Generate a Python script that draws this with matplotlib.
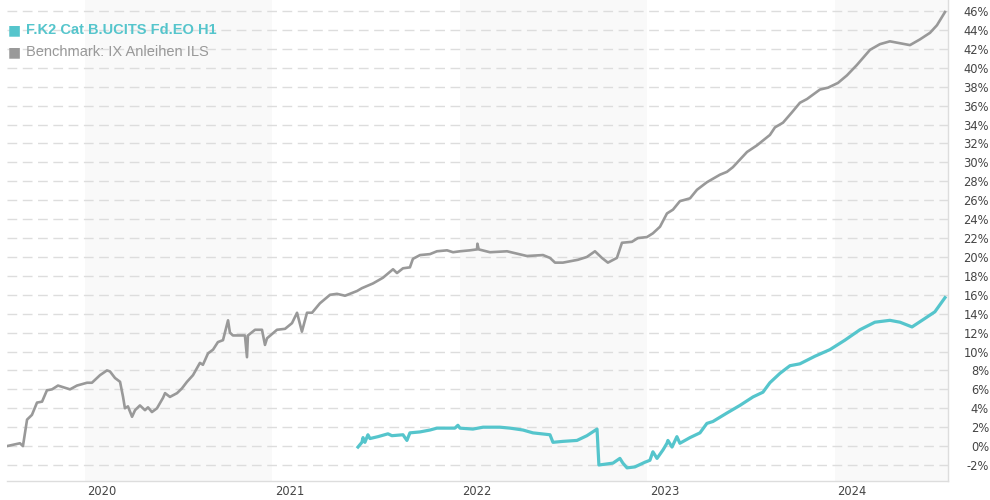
import matplotlib.pyplot as plt

# decimal years / cumulative performance in %
bench_t = [2019.584, 2019.653, 2019.669, 2019.691, 2019.717, 2019.744, 2019.771, 2019.797,
           2019.824, 2019.856, 2019.920, 2019.957, 2020.011, 2020.037, 2020.080, 2020.117,
           2020.133, 2020.160, 2020.187, 2020.203, 2020.213, 2020.229, 2020.251, 2020.267,
           2020.293, 2020.320, 2020.336, 2020.357, 2020.384, 2020.416, 2020.427, 2020.453,
           2020.491, 2020.517, 2020.544, 2020.576, 2020.613, 2020.629, 2020.656, 2020.683,
           2020.709, 2020.736, 2020.763, 2020.773, 2020.789, 2020.816, 2020.853, 2020.864,
           2020.869, 2020.907, 2020.944, 2020.960, 2020.971, 2021.024, 2021.067, 2021.104,
           2021.131, 2021.157, 2021.184, 2021.211, 2021.253, 2021.307, 2021.344, 2021.387,
           2021.451, 2021.477, 2021.536, 2021.589, 2021.643, 2021.664, 2021.696, 2021.733,
           2021.749, 2021.787, 2021.840, 2021.877, 2021.931, 2021.963, 2022.000, 2022.053,
           2022.091, 2022.093, 2022.100, 2022.160, 2022.251, 2022.357, 2022.443, 2022.480,
           2022.507, 2022.549, 2022.629, 2022.677, 2022.720, 2022.757, 2022.789, 2022.837,
           2022.864, 2022.917, 2022.949, 2022.997, 2023.029, 2023.067, 2023.104, 2023.136,
           2023.173, 2023.227, 2023.264, 2023.317, 2023.387, 2023.424, 2023.456, 2023.531,
           2023.584, 2023.653, 2023.680, 2023.723, 2023.771, 2023.813, 2023.851, 2023.920,
           2023.963, 2024.016, 2024.064, 2024.117, 2024.187, 2024.240, 2024.293, 2024.347,
           2024.400, 2024.453, 2024.507, 2024.544, 2024.587]
bench_v = [0.0, 0.3, 0.0, 2.8, 3.3, 4.6, 4.7, 5.9,
           6.0, 6.4, 6.0, 6.4, 6.7, 6.7, 7.5, 8.0,
           7.9, 7.2, 6.8, 5.2, 4.0, 4.2, 3.1, 3.8,
           4.3, 3.8, 4.1, 3.6, 4.0, 5.1, 5.6, 5.2,
           5.6, 6.1, 6.8, 7.5, 8.8, 8.6, 9.8, 10.2,
           11.0, 11.2, 13.3, 12.0, 11.7, 11.7, 11.7, 9.4,
           11.7, 12.3, 12.3, 10.7, 11.4, 12.3, 12.4, 13.0,
           14.1, 12.1, 14.1, 14.1, 15.1, 16.0, 16.1, 15.9,
           16.4, 16.7, 17.2, 17.8, 18.7, 18.3, 18.8, 18.9,
           19.8, 20.2, 20.3, 20.6, 20.7, 20.5, 20.6, 20.7,
           20.8, 21.4, 20.8, 20.5, 20.6, 20.1, 20.2, 19.9,
           19.4, 19.4, 19.7, 20.0, 20.6, 19.9, 19.4, 19.9,
           21.5, 21.6, 22.0, 22.1, 22.5, 23.2, 24.6, 25.0,
           25.9, 26.2, 27.1, 27.9, 28.7, 29.0, 29.5, 31.1,
           31.8, 32.9, 33.7, 34.2, 35.3, 36.3, 36.7, 37.7,
           37.9, 38.4, 39.2, 40.3, 41.9, 42.5, 42.8, 42.6,
           42.4, 43.0, 43.7, 44.5, 45.9]

fund_t = [2021.456, 2021.477, 2021.483, 2021.493, 2021.509, 2021.520, 2021.563, 2021.616,
          2021.637, 2021.696, 2021.717, 2021.733, 2021.787, 2021.840, 2021.877, 2021.973,
          2021.989, 2022.000, 2022.069, 2022.123, 2022.213, 2022.267, 2022.336, 2022.389,
          2022.480, 2022.496, 2022.549, 2022.624, 2022.677, 2022.731, 2022.741, 2022.816,
          2022.853, 2022.869, 2022.891, 2022.933, 2022.987, 2023.013, 2023.029, 2023.051,
          2023.083, 2023.104, 2023.109, 2023.131, 2023.157, 2023.173, 2023.227, 2023.280,
          2023.317, 2023.349, 2023.424, 2023.493, 2023.563, 2023.616, 2023.653, 2023.707,
          2023.760, 2023.813, 2023.893, 2023.973, 2024.053, 2024.133, 2024.213, 2024.293,
          2024.347, 2024.411, 2024.480, 2024.533, 2024.587]
fund_v = [-0.1, 0.4, 0.9, 0.4, 1.2, 0.8, 1.0, 1.3,
          1.1, 1.2, 0.6, 1.4, 1.5, 1.7, 1.9, 1.9,
          2.2, 1.9, 1.8, 2.0, 2.0, 1.9, 1.7, 1.4,
          1.2, 0.4, 0.5, 0.6, 1.1, 1.8, -2.0, -1.8,
          -1.3, -1.8, -2.3, -2.2, -1.7, -1.5, -0.6, -1.3,
          -0.4, 0.3, 0.6, -0.1, 1.0, 0.3, 0.9, 1.4,
          2.4, 2.6, 3.5, 4.3, 5.2, 5.7, 6.7, 7.7,
          8.5, 8.7, 9.5, 10.2, 11.2, 12.3, 13.1, 13.3,
          13.1, 12.6, 13.5, 14.2, 15.7]

years = [2020, 2021, 2022, 2023, 2024]
yticks = list(range(-2, 47, 2))

TEAL = '#55c5cc'
GREY = '#999999'

fig = plt.figure(figsize=(9.9, 5), dpi=100)
ax = fig.add_axes([7 / 990, 19 / 500, 941 / 990, 481 / 500])

x0, x1 = 2019.584, 2024.603
ax.set_xlim(x0, x1)
ax.set_ylim(-3.69, 47.17)

# alternating year bands
for y in (2020, 2022, 2024):
    ax.axvspan(y, min(y + 1, x1), color='#f9f9f9', lw=0, zorder=0)

for v in yticks:
    ax.axhline(v, color='#dddddd', lw=1, ls=(0, (7, 4)), zorder=1)

ax.plot(bench_t, bench_v, color=GREY, lw=1.9, zorder=3)
ax.plot(fund_t, fund_v, color=TEAL, lw=2.3, zorder=4)

for s in ('top', 'left'):
    ax.spines[s].set_visible(False)
for s in ('bottom', 'right'):
    ax.spines[s].set_color('#dddddd')
    ax.spines[s].set_linewidth(1)

ax.yaxis.tick_right()
ax.set_yticks(yticks)
ax.set_yticklabels([f'{v}%' for v in yticks])
ax.tick_params(axis='y', length=0, pad=29.5, labelsize=8.3, labelcolor='#444444')
for lab in ax.get_yticklabels():
    lab.set_horizontalalignment('right')

ax.set_xticks([y + 0.09 for y in years])
ax.set_xticklabels([str(y) for y in years])
ax.tick_params(axis='x', length=0, pad=3, labelsize=8.3, labelcolor='#444444')

# legend
fig.text(8 / 990, 1 - 30 / 500, '■', color=TEAL, fontsize=10, va='center',
         family='DejaVu Sans')
fig.text(26 / 990, 1 - 30 / 500, 'F.K2 Cat B.UCITS Fd.EO H1', color=TEAL, fontsize=10.5,
         fontweight='bold', va='center', family='Liberation Sans')
fig.text(8 / 990, 1 - 52 / 500, '■', color=GREY, fontsize=10, va='center',
         family='DejaVu Sans')
fig.text(26 / 990, 1 - 52 / 500, 'Benchmark: IX Anleihen ILS', color=GREY, fontsize=10.5,
         va='center', family='Liberation Sans')

fig.savefig('out.png', dpi=100)
